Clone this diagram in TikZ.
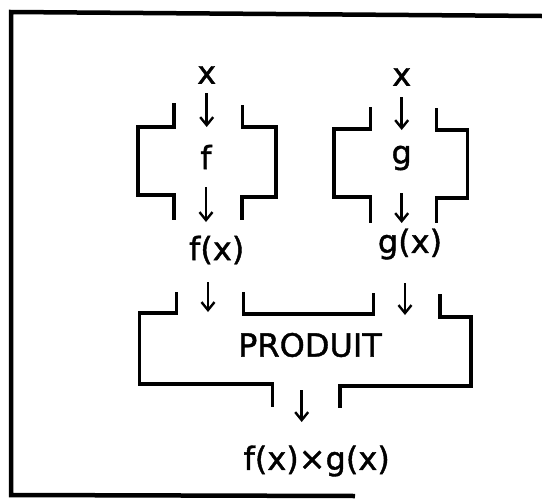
\documentclass[tikz,border=0pt]{standalone}
\usepackage{fontspec}
\setmainfont{DejaVu Sans}
\newfontfamily\lblfont{DejaVu Sans}[BoldFont={DejaVu Sans},BoldFeatures={FakeBold=1.3}]
\usetikzlibrary{arrows.meta}
\begin{document}
\begin{tikzpicture}[x=1pt,y=-1pt,
  lbl/.style={inner sep=0pt,font=\lblfont\bfseries\fontsize{32}{38}\selectfont},
  bracket/.style={line width=3.2pt,line join=miter},
  frame/.style={line width=4.5pt},
  arr/.style={line width=2.8pt,-{Straight Barb[length=8pt,width=13pt,line width=2.4pt]}}]
\useasboundingbox (0,0) rectangle (542,499);
% frame
\draw[frame] (542,16) -- (11,12) -- (11,495) -- (355,496);
% text nodes
\node[lbl] (x1) at (206.7,75) {x};
\node[lbl] (f) at (206,157) {f};
\node[lbl] (fx) at (216.7,250) {f(x)};
\node[lbl] (x2) at (401.7,77) {x};
\node[lbl] (g) at (401.7,158) {g};
\node[lbl] (gx) at (410,244) {g(x)};
\node[lbl] (prod) at (310,345) {PRODUIT};
\node[lbl] (res) at (316.7,461) {f(x)×g(x)};
% f box
\draw[bracket] (174,103) -- (174,127) -- (138,127) -- (138,195) -- (174,195) -- (174,220);
\draw[bracket] (242.5,105) -- (242.5,127) -- (276,127) -- (276,197) -- (242,197) -- (242,220);
% g box
\draw[bracket] (370.7,107) -- (370.7,129) -- (334,129) -- (334,197) -- (370.7,197) -- (370.7,223);
\draw[bracket] (436.7,108) -- (436.7,130) -- (467.7,130) -- (467.7,198) -- (436.7,198) -- (436.7,223);
% produit box
\draw[bracket] (176.7,292) -- (176.7,313) -- (139.3,313) -- (139.3,384) -- (272.7,384) -- (272.7,407);
\draw[bracket] (243.3,292) -- (243.3,314) -- (373.3,314) -- (373.3,293);
\draw[bracket] (440,294) -- (440,317) -- (471,317) -- (471,386) -- (340,386) -- (340,408);
% arrows
\draw[arr,shorten <=18pt,shorten >=30pt] (x1.center) -- (x1.center |- f.center);
\draw[arr,shorten <=30pt,shorten >=28pt] (f.center) -- (f.center |- fx.center);
\draw[arr,shorten <=20pt,shorten >=28pt] (x2.center) -- (x2.center |- g.center);
\draw[arr,shorten <=35pt,shorten >=21pt] (g.center) -- (g.center |- gx.center);
\draw[arr,shorten <=32pt,shorten >=33pt] ([xshift=2pt]f.center |- fx.center) -- ([xshift=2pt]f.center |- prod.center);
\draw[arr,shorten <=39pt,shorten >=30pt] ([xshift=3.3pt]g.center |- gx.center) -- ([xshift=3.3pt]g.center |- prod.center);
\draw[arr,shorten <=45pt,shorten >=39pt] ([xshift=-8.3pt]prod.center) -- ([xshift=-8.3pt]prod.center |- res.center);
\end{tikzpicture}
\end{document}
